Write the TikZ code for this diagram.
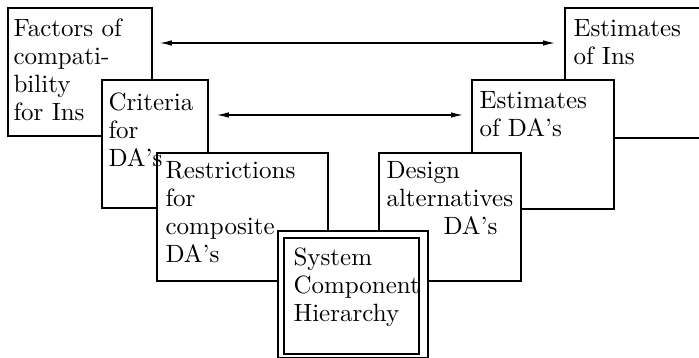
\documentclass[tikz,border=0pt]{standalone}
\usetikzlibrary{arrows.meta,calc}
\begin{document}
\begin{tikzpicture}[x=0.4pt,y=-0.4pt,
  box/.style={draw, fill=white, line width=0.7pt, anchor=north west, inner sep=0pt},
  txt/.style={anchor=north west, inner sep=0pt, align=left,
              font=\fontsize{10}{11.2}\selectfont},
  link/.style={line width=0.5pt, {Latex[length=4.8pt,width=2.2pt]}-{Latex[length=4.8pt,width=2.2pt]}}]
\useasboundingbox (0,0) rectangle (699,358);

% boxes, back to front
\node[box, minimum width=144*0.4pt, minimum height=128*0.4pt] (fac)  at (7,7) {};
\node[box, minimum width=106*0.4pt, minimum height=128*0.4pt] (crit) at (101,79) {};
\node[box, minimum width=171*0.4pt, minimum height=128*0.4pt] (restr) at (156,152) {};
\node[box, minimum width=170*0.4pt, minimum height=130*0.4pt] (eins) at (564,7) {};
\node[box, minimum width=142*0.4pt, minimum height=129*0.4pt] (eda)  at (471,79) {};
\node[box, minimum width=142*0.4pt, minimum height=128*0.4pt] (des)  at (378,152) {};
\node[box, minimum width=150*0.4pt, minimum height=127*0.4pt] (sys)  at (277,230) {};
\node[box, minimum width=135*0.4pt, minimum height=116*0.4pt] (sysin) at (283,237) {};

% labels
\node[txt] (facT)   at ($(fac.north west)+(6,9.4)$)   {\strut Factors of\\compati-\\bility\\for Ins};
\node[txt] (critT)  at ($(crit.north west)+(7,11.4)$) {\strut Criteria\\for\\DA's};
\node[txt] (restrT) at ($(restr.north west)+(9,6.4)$) {\strut Restrictions\\for\\composite\\DA's};
\node[txt] (sysT)   at ($(sys.north west)+(16,15.4)$) {\strut System\\Component\\Hierarchy};
\node[txt] (desT)   at ($(des.north west)+(8,6.4)$)   {\strut Design\\alternatives\\\hspace*{22.8pt}DA's};
\node[txt] (edaT)   at ($(eda.north west)+(8,9.4)$)   {\strut Estimates\\of DA's};
\node[txt] (einsT)  at ($(eins.north west)+(9,9.4)$)  {\strut Estimates\\of Ins};

% two-way links
\coordinate (r1) at (0,43);
\coordinate (r2) at (0,115);
\draw[link, shorten <=2.8pt, shorten >=3.6pt] (fac.east |- r1) -- (eins.west |- r1);
\draw[link, shorten <=3.2pt, shorten >=3.2pt] (crit.east |- r2) -- (eda.west |- r2);
\end{tikzpicture}
\end{document}
